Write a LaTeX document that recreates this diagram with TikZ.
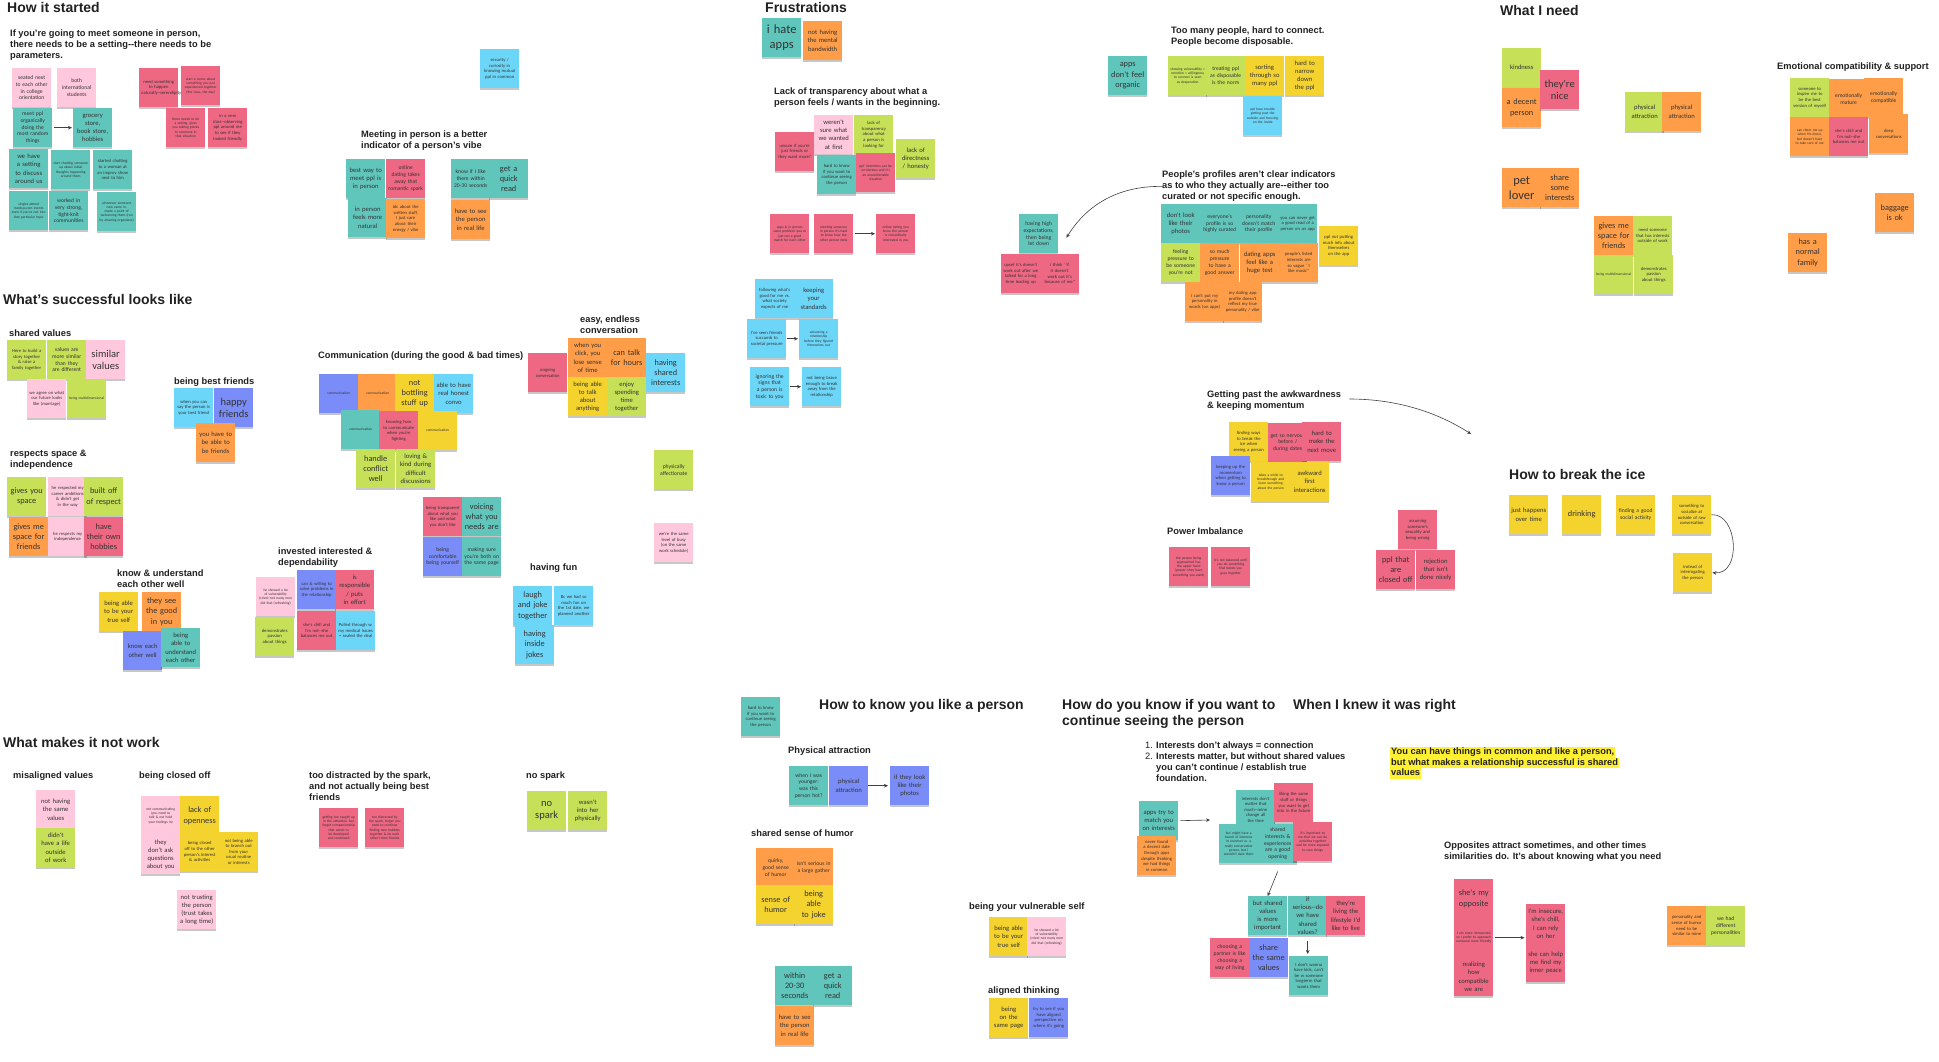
\documentclass[tikz,border=0pt]{standalone}
\usepackage{fontspec}
\setmainfont{Liberation Sans}
\newfontfamily\snfont{Carlito}
\usetikzlibrary{arrows.meta,shadows,calc}
\hyphenpenalty=10000
\exhyphenpenalty=10000
\definecolor{cteal}{RGB}{96,198,188}
\definecolor{cpink}{RGB}{255,200,221}
\definecolor{cred}{RGB}{238,104,132}
\definecolor{corange}{RGB}{255,157,72}
\definecolor{cyellow}{RGB}{245,211,46}
\definecolor{clime}{RGB}{198,224,88}
\definecolor{cblue}{RGB}{108,214,248}
\definecolor{cviolet}{RGB}{122,140,248}
\definecolor{hlyel}{RGB}{255,240,50}
\newcommand{\snote}[6]{\node[sticky,fill=#4,#5] (#1) at (#2,#3) {#6};}
\newcommand{\dhy}{-\kern0pt-}
\begin{document}
\begin{tikzpicture}[x=1pt,y=-1pt,
  sticky/.style={anchor=north west, minimum width=39pt, minimum height=39pt, text width=35pt, align=center, inner sep=0pt, text=black!80,
    drop shadow={shadow xshift=0pt, shadow yshift=-1.6pt, opacity=0.22, fill=black}},
  t1/.style={font=\snfont\fontsize{3.6}{4.3}\selectfont},
  t2/.style={font=\snfont\fontsize{4.6}{5.6}\selectfont},
  t3/.style={font=\snfont\fontsize{5.6}{6.8}\selectfont},
  t4/.style={font=\snfont\fontsize{6.6}{8.1}\selectfont},
  t5/.style={font=\snfont\fontsize{8.3}{10.2}\selectfont},
  t6/.style={font=\snfont\fontsize{10.5}{12.5}\selectfont},
  t7/.style={font=\snfont\fontsize{12.5}{15}\selectfont},
  h1/.style={anchor=north west, inner sep=0pt, align=left, text=black!87, font=\bfseries\fontsize{14}{16}\selectfont},
  h2/.style={anchor=north west, inner sep=0pt, align=left, text=black!87, font=\bfseries\fontsize{9.3}{10.8}\selectfont},
  hl/.style={anchor=base west, inner xsep=1pt, inner ysep=0pt, text height=7.6pt, text depth=3.1pt, fill=hlyel, text=black!87, font=\bfseries\fontsize{9.3}{10.8}\selectfont},
  arr/.style={-{Stealth[length=4pt,width=3.6pt]}, line width=0.6pt, draw=black!75}]
\fill[white] (0,0) rectangle (1939,1061);
\useasboundingbox (0,0) rectangle (1939,1061);

% ---------- How it started ----------
\node[h1] (tStart) at (7,2) {How it started};
\node[h2] (tSetting) at (10,30) {If you're going to meet someone in person,\\there needs to be a setting\dhy there needs to be\\parameters.};
\snote{seated}{12}{68}{cpink}{t3}{seated next to each other in college orientation}
\snote{intl}{57}{68}{cpink}{t3}{both international students}
\snote{meetppl}{13}{108}{cteal}{t3}{meet ppl organically doing the most random things}
\snote{grocery}{73}{108}{cteal}{t4}{grocery store, book store, hobbies}
\snote{setting}{9}{149}{cteal}{t4}{we have a setting to discuss around us}
\snote{startchat}{51}{150}{cteal}{t1}{start chatting someone up about initial thoughts happening around them}
\snote{improv}{93}{150}{cteal}{t2}{started chatting to a woman at an improv show next to him}
\snote{singles}{9}{191}{cteal}{t1}{singles attend meetup.com events even if you're not into that particular topic}
\snote{worked}{49}{191}{cteal}{t3}{worked in very strong, tight-knit communities}
\snote{whenever}{97}{192}{cteal}{t1}{whenever someone new came in, made a point of welcoming them (run by amazing organizers)}
\snote{serendip}{139}{68}{cred}{t2}{need something to happen naturally\dhy serendipity}
\snote{convo}{181}{66}{cred}{t1}{start a convo about something you just experienced together (the class, the day)}
\snote{needset}{166}{108}{cred}{t1}{there needs to be a setting, gives you talking points to someone in that situation}
\snote{newclass}{208}{108}{cred}{t2}{in a new class\dhy observing ppl around me to see if they looked friendly}
\draw[arr, shorten <=2pt, shorten >=1pt] (meetppl.east) -- (grocery.west);
\snote{security}{480}{49}{cblue}{t2}{security / curiosity in knowing mutual ppl in common}

\node[h2] (tMeeting) at (361,131) {Meeting in person is a better\\indicator of a person's vibe};
\snote{bestway}{346}{159}{cteal}{t4}{best way to meet ppl is in person}
\snote{online}{386}{159}{cred}{t3}{online dating takes away that romantic spark}
\snote{natural}{348}{198}{cteal}{t4}{in person feels more natural}
\snote{idc}{386}{199}{corange}{t2}{idc about the written stuff, I just care about their energy / vibe}
\snote{knowif}{451}{159}{cteal}{t3}{know if I like them within 20-30 seconds}
\snote{seeperson}{451}{200}{corange}{t4}{have to see the person in real life}
\snote{quickread}{489}{159}{cteal}{t5}{get a quick read}

% ---------- What's successful ----------
\node[h1] (tSuccess) at (3,294) {What's successful looks like};
\node[h2] (tShared) at (9,330) {shared values};
\snote{story}{7}{340}{clime}{t2}{Here to build a story together \& raise a family together}
\snote{valsim}{47}{340}{clime}{t3}{values are more similar than they are different}
\snote{simval}{86}{340}{cpink}{t6}{similar values}
\snote{agree}{27}{379}{cpink}{t2}{we agree on what our future looks like (marriage)}
\snote{multi1}{67}{379}{clime}{t1}{being multidimensional}

\node[h2] (tBest) at (174,378) {being best friends};
\snote{bestfr}{174}{388}{cblue}{t2}{when you can say the person is your best friend}
\snote{happy}{214}{388}{cviolet}{t6}{happy friends}
\snote{befriends}{196}{423}{corange}{t4}{you have to be able to be friends}

\node[h2] (tRespect) at (10,450) {respects space \&\\independence};
\snote{givesp}{7}{477}{clime}{t5}{gives you space}
\snote{career}{48}{477}{cpink}{t2}{he respected my career ambitions \& didn't get in the way}
\snote{builtoff}{84}{477}{clime}{t5}{built off of respect}
\snote{spfriends}{9}{517}{corange}{t5}{gives me space for friends}
\snote{indep}{48}{517}{cpink}{t2}{he respects my independence}
\snote{hobbies}{84}{517}{cred}{t5}{have their own hobbies}

\node[h2] (tComm) at (318,352) {Communication (during the good \& bad times)};
\snote{com1}{319}{374}{cviolet}{t1}{communication}
\snote{com2}{358}{374}{corange}{t1}{communication}
\snote{bottle}{395}{374}{cyellow}{t5}{not bottling stuff up}
\snote{honest}{434}{374}{cblue}{t4}{able to have real honest convo}
\snote{com3}{341}{410}{cteal}{t1}{communication}
\snote{fighting}{379}{411}{cred}{t2}{knowing how to communicate when you're fighting}
\snote{com4}{418}{411}{cyellow}{t1}{communication}
\snote{conflict}{356}{449}{clime}{t5}{handle conflict well}
\snote{loving}{396}{449}{clime}{t4}{loving \& kind during difficult discussions}
\snote{transp}{423}{497}{cred}{t2}{being transparent about what you like and what you don't like}
\snote{voicing}{462}{497}{cteal}{t5}{voicing what you needs are}
\snote{comfort}{423}{537}{cviolet}{t3}{being comfortable being yourself}
\snote{samepage1}{462}{537}{cteal}{t3}{making sure you're both on the same page}

\node[h2] (tInvest) at (278,548) {invested interested \&\\dependability};
\snote{vuln1}{256}{577}{cpink}{t1}{he showed a lot of vulnerability (cried\dhy not many men did that (refreshing)}
\snote{solve}{297}{570}{cviolet}{t2}{can \& willing to solve problems in the relationship}
\snote{effort}{335}{570}{cred}{t4}{is responsible / puts in effort}
\snote{passion1}{255}{617}{clime}{t2}{demonstrates passion about things}
\snote{chill1}{297}{611}{cred}{t2}{she's chill and I'm not\dhy she balances me out}
\snote{medical}{336}{611}{cblue}{t2}{Pulled through w. my medical issues = sealed the deal}

\node[h2] (tKnow) at (117,570) {know \& understand\\each other well};
\snote{trueself1}{99}{592}{cyellow}{t4}{being able to be your true self}
\snote{seegood}{142}{592}{corange}{t5}{they see the good in you}
\snote{knoweach}{123}{631}{cviolet}{t4}{know each other well}
\snote{understand}{161}{628}{cteal}{t4}{being able to understand each other}

\node[h2] (tEasy) at (580,316) {easy, endless\\conversation};
\snote{ongoing}{528}{353}{cred}{t2}{ongoing conversation}
\snote{click}{568}{338}{corange}{t4}{when you click, you lose sense of time}
\snote{hours}{607}{338}{corange}{t5}{can talk for hours}
\snote{anything}{568}{377}{cyellow}{t4}{being able to talk about anything}
\snote{enjoy}{607}{377}{clime}{t4}{enjoy spending time together}
\snote{sharedint}{646}{353}{cblue}{t5}{having shared interests}
\snote{affection}{654}{450}{clime}{t3}{physically affectionate}
\snote{busy}{654}{523}{cpink}{t2}{we're the same level of busy (on the same work schedule)}

\node[h2] (tFun) at (530,564) {having fun};
\snote{laugh}{513}{586}{cblue}{t5}{laugh and joke together}
\snote{firstdate}{554}{586}{cblue}{t2}{Bc we had so much fun on the 1st date, we planned another}
\snote{inside}{515}{625}{cblue}{t5}{having inside jokes}

% ---------- What makes it not work ----------
\node[h1] (tNot) at (3,737) {What makes it not work};
\node[h2] (tMis) at (13,772) {misaligned values};
\snote{notsame}{36}{790}{cpink}{t4}{not having the same values}
\snote{nolife}{36}{828}{clime}{t4}{didn't have a life outside of work}
\node[h2] (tClosed) at (139,772) {being closed off};
\snote{notcomm}{141}{796}{cpink}{t1}{not communicating (you need to talk \& not hold your feelings in)}
\snote{openness}{180}{796}{cyellow}{t5}{lack of openness}
\snote{dontask}{141}{835}{cpink}{t4}{they don't ask questions about you}
\snote{closedoff}{180}{832}{cyellow}{t2}{being closed off to the other person's interest \& activities}
\snote{branch}{219}{832}{cyellow}{t2}{not being able to branch out from your usual routine or interests}
\snote{trust}{177}{890}{cpink}{t4}{not trusting the person (trust takes a long time)}
\node[h2] (tDistr) at (309,772) {too distracted by the spark,\\and not actually being best\\friends};
\snote{caught}{319}{808}{cred}{t1}{getting too caught up in the attraction, but forget companionship that needs to be developed and continued}
\snote{distracted}{365}{808}{cred}{t1}{too distracted by the spark, forget you need to continue finding new hobbies together \& be each other's best friends}
\node[h2] (tNoSpark) at (526,772) {no spark};
\snote{nospark}{527}{791}{clime}{t6}{no spark}
\snote{wasnt}{568}{791}{clime}{t4}{wasn't into her physically}

% ---------- Frustrations ----------
\node[h1] (tFrus) at (765,2) {Frustrations};
\snote{hate}{762}{18}{cteal}{t7}{i hate apps}
\snote{bandwidth}{803}{21}{corange}{t4}{not having the mental bandwidth}
\node[h2] (tLack) at (774,88) {Lack of transparency about what a\\person feels / wants in the beginning.};
\snote{unsure}{775}{132}{cred}{t2}{unsure if you're just friends or they want more?}
\snote{werent}{814}{115}{cpink}{t4}{weren't sure what we wanted at first}
\snote{lacktr}{854}{115}{clime}{t2}{lack of transparency about what a person is looking for}
\snote{direct}{896}{139}{clime}{t4}{lack of directness / honesty}
\snote{hardknow1}{817}{155}{cteal}{t2}{hard to know if you want to continue seeing the person}
\snote{intentions}{856}{153}{cred}{t1}{ppl' intentions can be un-obvious and it's an uncomfortable situation}
\snote{samprob}{770}{214}{cred}{t1}{apps \& in person same problem\dhy you're just not a good match for each other}
\snote{meetsome}{814}{214}{cred}{t1}{meeting someone in person it's hard to know how the other person feels}
\snote{romant}{876}{214}{cred}{t1}{online dating you know the person is romantically interested in you}
\draw[arr, shorten <=2pt, shorten >=1pt] (meetsome.east) -- (romant.west);
\snote{society}{755}{279}{cblue}{t2}{following what's good for me vs. what society expects of me}
\snote{standards}{794}{279}{cblue}{t4}{keeping your standards}
\snote{succumb}{747}{319}{cblue}{t2}{I've seen friends succumb to societal pressure}
\snote{advancing}{799}{319}{cblue}{t1}{advancing a relationship before they figured themselves out}
\snote{toxic}{750}{367}{cblue}{t3}{ignoring the signs that a person is toxic to you}
\snote{brave}{802}{367}{cblue}{t2}{not being brave enough to break away from the relationship}
\draw[arr, shorten <=1pt, shorten >=1pt] (succumb.east) -- (advancing.west);
\draw[arr, shorten <=1pt, shorten >=1pt] (toxic.east) -- (brave.west);

\node[h2] (tMany) at (1171,27) {Too many people, hard to connect.\\People become disposable.};
\snote{organic}{1108}{56}{cteal}{t5}{apps don't feel organic}
\snote{showvul}{1168}{56}{clime}{t1}{showing vulnerability = emotion = willingness to connect is seen as desperation}
\snote{dispos}{1206}{56}{clime}{t3}{treating ppl as disposable is the norm}
\snote{sorting}{1245}{56}{cyellow}{t4}{sorting through so many ppl}
\snote{narrow}{1285}{56}{cyellow}{t4}{hard to narrow down the ppl}
\snote{outside}{1243}{96}{cblue}{t1}{ppl have trouble getting past the outside and focusing on the inside}

\node[h2] (tProf) at (1162,171) {People's profiles aren't clear indicators\\as to who they actually are\dhy either too\\curated or not specific enough.};
\snote{photos1}{1161}{204}{cteal}{t4}{don't look like their photos}
\snote{curated}{1200}{204}{cteal}{t3}{everyone's profile is so highly curated}
\snote{nomatch}{1239}{204}{cteal}{t3}{personality doesn't match their profile}
\snote{goodread}{1278}{204}{cteal}{t2}{you can never get a good read of a person on an app}
\snote{noinfo}{1319}{226}{cyellow}{t2}{ppl not putting much info about themselves on the app}
\snote{pressure}{1161}{243}{clime}{t3}{feeling pressure to be someone you're not}
\snote{goodans}{1200}{243}{corange}{t3}{so much pressure to have a good answer}
\snote{hugetest}{1240}{243}{corange}{t4}{dating apps feel like a huge test}
\snote{vague}{1279}{243}{corange}{t2}{people's listed interests are so vague ``I like music''}
\snote{words}{1185}{282}{corange}{t2}{i can't put my personality in words (on apps)}
\snote{reflect}{1223}{282}{corange}{t2}{my dating app profile doesn't reflect my true personality / vibe}

\snote{high}{1019}{214}{cteal}{t3}{having high expectations, then being let down}
\snote{upset}{1001}{254}{cred}{t2}{upset it's doesn't work out after we talked for a long time leading up}
\snote{because}{1040}{254}{cred}{t2}{i think ``if it doesn't work out it's because of me''}
\coordinate (highIn) at ($(high.east)+(8,4)$);
\draw[arr] (tProf.west) .. controls (1120,186) and (1088,203) .. (highIn);

\node[h2] (tAwk) at (1207,391) {Getting past the awkwardness\\\& keeping momentum};
\snote{icebreak}{1229}{422}{cyellow}{t2}{finding ways to break the ice when seeing a person}
\snote{nervous}{1268}{423}{cred}{t3}{get so nervous before / during dates}
\snote{nextmove}{1302}{422}{cred}{t4}{hard to make the next move}
\snote{momentum}{1211}{456}{cviolet}{t2}{keeping up the momentum when getting to know a person}
\snote{breakthru}{1251}{462}{cyellow}{t1}{takes a while to breakthrough and learn something about the person}
\snote{awkward}{1290}{462}{cyellow}{t4}{awkward first interactions}
\coordinate (awkStart) at ($(tAwk.north east)+(8,8)$);
\coordinate (iceArr) at (1471,434);
\draw[arr] (awkStart) .. controls (1400,399) and (1440,414) .. (iceArr);

\node[h2] (tPower) at (1167,528) {Power Imbalance};
\snote{upper}{1169}{547}{cred}{t1}{the person being approached has the upper hand (power\dhy they have something you want)}
\snote{bonds}{1211}{547}{cred}{t1}{it's not balanced until you do something that bonds you guys together}
\snote{sexuality}{1398}{510}{cred}{t2}{assuming someone's sexuality and being wrong}
\snote{closedppl}{1376}{550}{cred}{t5}{ppl that are closed off}
\snote{rejection}{1416}{550}{cred}{t4}{rejection that isn't done nicely}

% ---------- What I need ----------
\node[h1] (tNeed) at (1500,5) {What I need};
\snote{kindness}{1502}{48}{clime}{t4}{kindness}
\snote{decent}{1502}{88}{corange}{t5}{a decent person}
\snote{nice}{1540}{70}{cred}{t6}{they're nice}
\snote{phys1}{1625}{92}{clime}{t4}{physical attraction}
\snote{phys2}{1662}{92}{corange}{t4}{physical attraction}
\snote{pet}{1502}{168}{corange}{t7}{pet lover}
\snote{shareint}{1540}{168}{corange}{t5}{share some interests}
\snote{spfriends2}{1594}{216}{corange}{t5}{gives me space for friends}
\snote{outwork}{1633}{216}{clime}{t2}{need someone that has interests outside of work}
\snote{multi2}{1594}{255}{clime}{t1}{being multidimensional}
\snote{passion2}{1634}{255}{clime}{t2}{demonstrates passion about things}

\node[h2] (tEmo) at (1777,63) {Emotional compatibility \& support};
\snote{inspire}{1790}{78}{clime}{t2}{someone to inspire me to be the best version of myself}
\snote{mature}{1829}{79}{corange}{t3}{emotionally mature}
\snote{compat}{1864}{78}{corange}{t3}{emotionally compatible}
\snote{cheer}{1790}{117}{corange}{t1}{can cheer me up when I'm down, but doesn't have to take care of me}
\snote{chill2}{1829}{117}{cred}{t2}{she's chill and I'm not\dhy she balances me out}
\snote{deep}{1869}{114}{corange}{t2}{deep conversations}
\snote{baggage}{1875}{193}{corange}{t5}{baggage is ok}
\snote{family}{1788}{233}{corange}{t5}{has a normal family}

\node[h1] (tIce) at (1509,469) {How to break the ice};
\snote{happens}{1509}{495}{cyellow}{t4}{just happens over time}
\snote{drinking}{1562}{495}{cyellow}{t5}{drinking}
\snote{social}{1616}{495}{cyellow}{t3}{finding a good social activity}
\snote{socialize}{1672}{495}{cyellow}{t2}{something to socialize at outside of raw conversation}
\snote{interrog}{1673}{553}{cyellow}{t2}{instead of interrogating the person}
\draw[arr] (socialize.east) .. controls (1738,513) and (1742,575) .. (interrog.east);

% ---------- Bottom ----------
\snote{hardknow2}{741}{697}{cteal}{t2}{hard to know if you want to continue seeing the person}
\node[h1] (tKnowLike) at (819,699) {How to know you like a person};
\node[h2] (tPhys) at (788,747) {Physical attraction};
\snote{younger}{789}{766}{cteal}{t3}{when I was younger: was this person hot?}
\snote{phys3}{829}{766}{cviolet}{t4}{physical attraction}
\snote{lookphotos}{890}{766}{cviolet}{t4}{if they look like their photos}
\draw[arr, shorten >=2pt] (phys3.east) -- (lookphotos.west);
\node[h2] (tHumor) at (751,830) {shared sense of humor};
\snote{quirky}{756}{848}{corange}{t3}{quirky, good sense of humor}
\snote{serious}{794}{848}{corange}{t3}{isn't serious in a large gather}
\snote{humor}{756}{885}{cyellow}{t5}{sense of humor}
\snote{joke}{794}{885}{cyellow}{t5}{being able to joke}
\snote{within}{775}{966}{cteal}{t5}{within 20-30 seconds}
\snote{quickread2}{813}{966}{cteal}{t5}{get a quick read}
\snote{seeperson2}{775}{1006}{corange}{t4}{have to see the person in real life}
\node[h2] (tVuln) at (969,903) {being your vulnerable self};
\snote{trueself2}{989}{917}{cyellow}{t4}{being able to be your true self}
\snote{vuln2}{1027}{917}{cpink}{t1}{he showed a lot of vulnerability (cried\dhy not many men did that (refreshing)}
\node[h2] (tAlign) at (988,987) {aligned thinking};
\snote{samepage2}{989}{998}{cyellow}{t4}{being on the same page}
\snote{aligned}{1029}{998}{cviolet}{t2}{try to see if you have aligned perspective on where it's going}

\node[h1] (tCont) at (1062,699) {How do you know if you want to\\continue seeing the person};
\node[h1] (tRight) at (1293,699) {When I knew it was right};
\node[h2, font=\fontsize{9.3}{10.8}\selectfont] (nums) at (1145,742) {1.\\2.};
\node[h2] (tList) at (1156,742) {Interests don't always = connection\\Interests matter, but without shared values\\you can't continue / establish true\\foundation.};
\snote{appsmatch}{1139}{801}{cteal}{t4}{apps try to match you on interests}
\snote{neverfound}{1137}{836}{corange}{t2}{never found a decent date through apps despite thinking we had things in common}
\coordinate (grpIn) at (1210,820);
\draw[arr, shorten <=2pt] (appsmatch.east) -- (grpIn);
\snote{intmatter}{1236}{790}{cteal}{t2}{interests don't matter that much\dhy mine change all the time}
\snote{liking}{1274}{783}{cred}{t2}{liking the same stuff or things you want to get into in the future}
\snote{bunch}{1219}{824}{cteal}{t1}{but might have a bunch of interests in common w. a really conservative person, but I wouldn't date them}
\snote{opening}{1258}{824}{cteal}{t3}{shared interests \& experiences are a good opening}
\snote{important}{1293}{822}{cred}{t1}{it's important to me that we can do activities together and be more exposed to new things}
\snote{butshared}{1248}{896}{cteal}{t4}{but shared values is more important}
\snote{ifserious}{1288}{896}{cteal}{t4}{if serious\dhy do we have shared values?}
\snote{lifestyle}{1326}{896}{cred}{t4}{they're living the lifestyle I'd like to live}
\snote{choosing}{1210}{938}{cred}{t3}{choosing a partner is like choosing a way of living}
\snote{samevals}{1249}{938}{cviolet}{t5}{share the same values}
\snote{kids}{1289}{956}{cteal}{t2}{I don't wanna have kids, can't be w someone longterm that wants them}
\coordinate (grpOut) at ($(opening.south)+(0,8)$);
\draw[arr] (grpOut) .. controls (1273,883) .. (butshared.north);
\draw[arr, shorten <=6pt, shorten >=2pt] (ifserious.south) -- (ifserious.south |- kids.north);

\node[hl] (hl1) at (1390,754.4) {You can have things in common and like a person,};
\node[hl] (hl2) at (1390,765.1) {but what makes a relationship successful is shared};
\node[hl] (hl3) at (1390,775.8) {values};

\node[h2] (tOpp) at (1444,842) {Opposites attract sometimes, and other times\\similarities do. It's about knowing what you need};
\snote{opposite}{1454}{879}{cred}{t5}{she's my opposite}
\snote{introv}{1454}{918}{cred}{t1}{I am more introverted so I prefer to approach someone more friendly}
\snote{realizing}{1454}{957}{cred}{t4}{realizing how compatible we are}
\snote{insecure}{1526}{904}{cred}{t4}{I'm insecure, she's chill, I can rely on her}
\snote{peace}{1526}{943}{cred}{t4}{she can help me find my inner peace}
\draw[arr, shorten <=1.5pt, shorten >=1.5pt] (introv.east) -- (introv.east -| insecure.west);
\snote{similar}{1667}{906}{corange}{t2}{personality and sense of humor need to be similar to mine}
\snote{different}{1706}{906}{clime}{t3}{we had different personalities}
\end{tikzpicture}
\end{document}
